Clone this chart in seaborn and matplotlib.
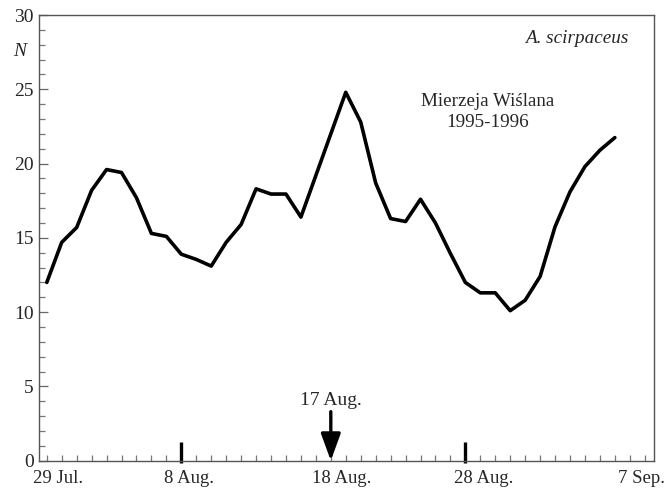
import matplotlib
matplotlib.use("Agg")
import matplotlib.pyplot as plt
import matplotlib.transforms as mtransforms
import numpy as np
import pandas as pd
import seaborn as sns

# ---- data ----
day_index = list(range(39))
counts = [12.0, 14.7, 15.7, 18.2, 19.6, 19.4, 17.7, 15.3, 15.1, 13.9,
          13.55, 13.1, 14.7, 15.9, 18.3, 17.95, 17.95, 16.4, 19.2, 22.0,
          24.8, 22.8, 18.7, 16.3, 16.1, 17.6, 16.0, 13.95, 12.0, 11.3,
          11.3, 10.1, 10.8, 12.4, 15.75, 18.1, 19.8, 20.9, 21.75]
date_labels = ["29 Jul.", "8 Aug.", "18 Aug.", "28 Aug.", "7 Sep."]
date_label_pos = [0.74, 9.52, 19.7, 29.25, 39.8]
marker_days = [9, 28]
arrow_day = 19
arrow_label = "17 Aug."
species = "A. scirpaceus"
site = "Mierzeja Wiślana"
years = "1995-1996"

df = pd.DataFrame({"day": day_index, "N": counts})

sns.set_theme(style="white")
plt.rcParams["font.family"] = ["Liberation Serif", "DejaVu Serif"]

fig = plt.figure(figsize=(6.66, 4.93), dpi=100)
ax = fig.add_axes([0.059, 0.0655, 0.923, 0.904])

sns.lineplot(data=df, x="day", y="N", ax=ax, color="black", linewidth=2.6,
             solid_joinstyle="round")

ax.set_xlim(-0.5, 40.62)
ax.set_ylim(0, 30)
ax.set_xlabel("")
ax.set_ylabel("")

for s in ax.spines.values():
    s.set_color("#555555")
    s.set_linewidth(1.0)

# y ticks
ax.set_yticks([0, 5, 10, 15, 20, 25, 30])
ax.set_yticks(np.arange(0, 31, 1), minor=True)
ax.tick_params(axis="y", which="major", direction="in", length=6.5, width=0.9,
               color="#666666", labelsize=14, pad=4, left=True)
ax.tick_params(axis="y", which="minor", direction="in", length=4, width=0.9,
               color="#777777", left=True)

# x ticks
ax.set_xticks(date_label_pos)
ax.set_xticklabels(date_labels)
ax.set_xticks(np.arange(0, 41, 1), minor=True)
ax.tick_params(axis="x", which="major", length=0, labelsize=13.5, pad=7, bottom=True)
ax.tick_params(axis="x", which="minor", direction="in", length=4, width=0.9,
               color="#777777", bottom=True)

# thick date markers
for d in marker_days:
    ax.plot([d, d], [-0.15, 1.25], color="black", lw=2.4,
            solid_capstyle="butt", clip_on=False)

# arrow
ax.annotate("", xy=(arrow_day, 0), xytext=(arrow_day, 3.3),
            arrowprops=dict(arrowstyle="-|>,head_width=0.4,head_length=1.1",
                            mutation_scale=15, lw=2.4, color="black",
                            shrinkA=0, shrinkB=0))
ax.text(arrow_day, 3.75, arrow_label, ha="center", va="baseline", fontsize=14)

# annotations
ax.text(38.9, 28.1, species, ha="right", va="baseline", fontsize=13.8, style="italic")
ax.text(29.5, 23.87, site, ha="center", va="baseline", fontsize=13.7)
ax.text(29.5, 22.48, years, ha="center", va="baseline", fontsize=13.7)

trans = mtransforms.blended_transform_factory(ax.transAxes, ax.transData)
ax.text(-0.032, 27.25, "N", transform=trans, ha="center", va="baseline",
        fontsize=14, style="italic")

fig.savefig("out.png", dpi=100)
